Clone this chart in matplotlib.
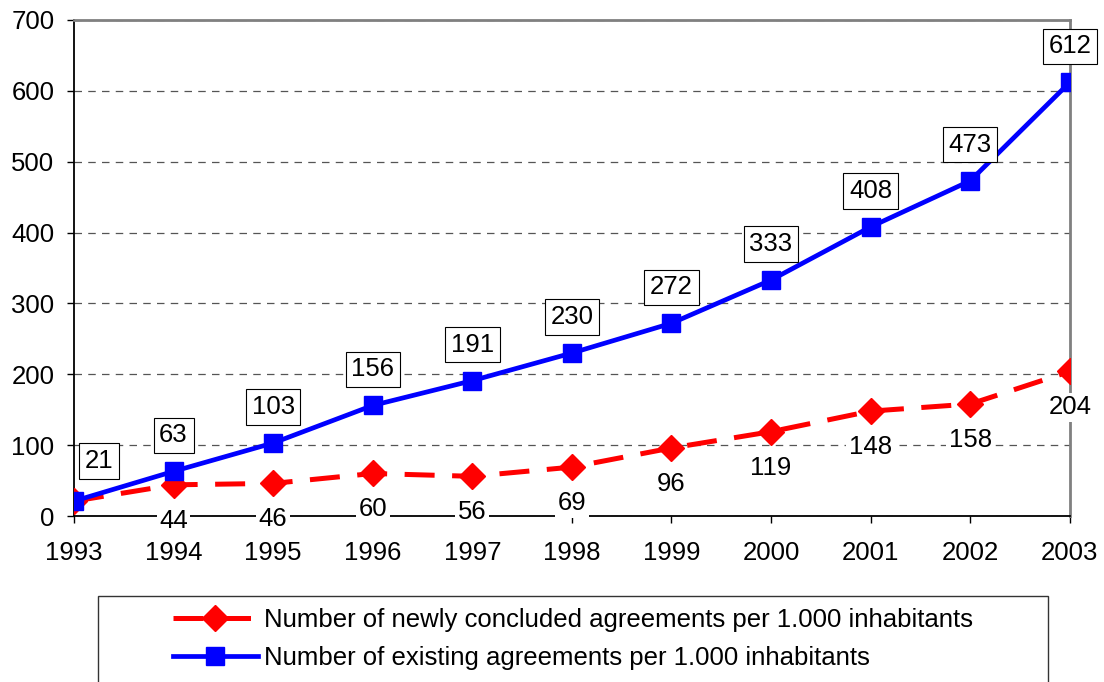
import matplotlib.pyplot as plt
from matplotlib.patches import Rectangle

plt.rcParams['font.family'] = ['Liberation Sans', 'DejaVu Sans']

years = [1993, 1994, 1995, 1996, 1997, 1998, 1999, 2000, 2001, 2002, 2003]
new_agreements = [21, 44, 46, 60, 56, 69, 96, 119, 148, 158, 204]
existing_agreements = [21, 63, 103, 156, 191, 230, 272, 333, 408, 473, 612]
y_ticks = [0, 100, 200, 300, 400, 500, 600, 700]

fs = 18.5

fig = plt.figure(figsize=(11.04, 6.82), dpi=100)
ax = fig.add_axes([0.067, 0.2434, 0.902, 0.7273])

ax.plot(years, new_agreements, color='#ff0000', lw=3.6, dashes=(6, 3.5),
        marker='D', markersize=13, zorder=3,
        label='Number of newly concluded agreements per 1.000 inhabitants')
ax.plot(years, existing_agreements, color='#0000ff', lw=3.4,
        marker='s', markersize=13, zorder=4,
        label='Number of existing agreements per 1.000 inhabitants')

# labels under the red points (white background hides axis/grid)
for x, v in zip(years[1:], new_agreements[1:]):
    ax.annotate(str(v), (x, v), xytext=(0, -36), textcoords='offset pixels',
                ha='center', va='center', fontsize=fs, zorder=5,
                bbox=dict(boxstyle='square,pad=0.1', fc='white', ec='none'))

# boxed labels above the blue points
for i, (x, v) in enumerate(zip(years, existing_agreements)):
    dx = 25 if i == 0 else 0
    dy = 40 if i == 0 else 36
    ax.annotate(str(v), (x, v), xytext=(dx, dy), textcoords='offset pixels',
                ha='center', va='center', fontsize=fs, zorder=6,
                bbox=dict(boxstyle='square,pad=0.22', fc='white', ec='black', lw=0.8))

ax.set_xlim(1993, 2003)
ax.set_ylim(0, 700)
ax.set_xticks(years)
ax.set_yticks(y_ticks)
ax.tick_params(axis='both', labelsize=fs, direction='out', length=5, width=1)
ax.tick_params(axis='x', pad=13)
ax.tick_params(axis='y', pad=9)

ax.grid(axis='y', color='#555555', ls=(0, (6, 5)), lw=0.9)
ax.set_axisbelow(True)
for s in ['left', 'bottom']:
    ax.spines[s].set_color('black')
    ax.spines[s].set_linewidth(1.3)
for s in ['top', 'right']:
    ax.spines[s].set_color('#808080')
    ax.spines[s].set_linewidth(2)

# legend
fig.patches.append(Rectangle((98 / 1104, -0.05), 950 / 1104, 0.05 + (682 - 596) / 682,
                             transform=fig.transFigure, fc='white', ec='#333333', lw=1))
fig.legend(loc='center', bbox_to_anchor=(573 / 1104, 1 - 639 / 682), frameon=False,
           fontsize=fs, handlelength=3.3, handletextpad=0.25, labelspacing=0.55,
           borderpad=0)

fig.savefig('out.png', dpi=100)
